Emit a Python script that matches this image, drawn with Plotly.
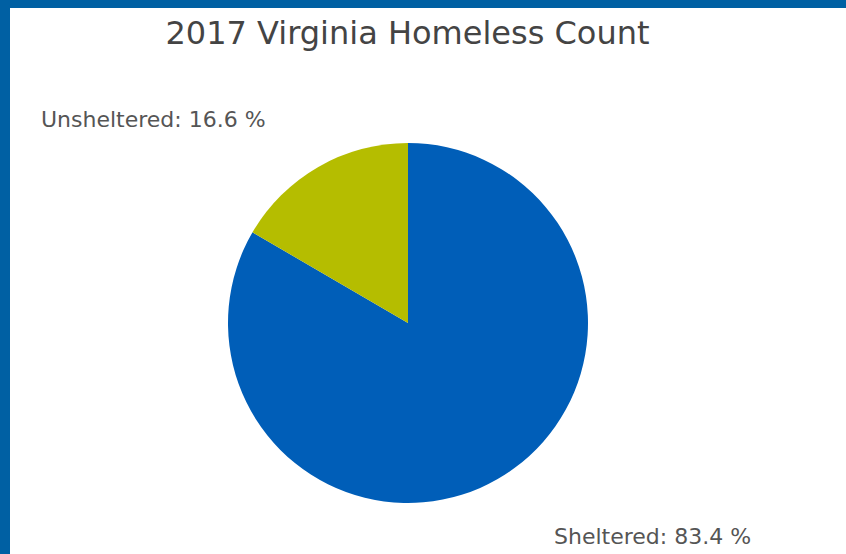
import math
import plotly.graph_objects as go

title = "2017 Virginia Homeless Count"
labels = ["Sheltered", "Unsheltered"]
values = [83.4, 16.6]
colors = ["#005EB8", "#B5BD00"]

W, H = 846, 554
cx, cy, rad = 408, 323, 180  # pie centre / radius in pixels

fig = go.Figure(go.Pie(
    labels=labels,
    values=values,
    marker=dict(colors=colors, line=dict(width=0)),
    sort=False,
    direction="clockwise",
    rotation=0,
    textinfo="none",
    hoverinfo="label+percent",
    showlegend=False,
    domain=dict(x=[(cx - rad) / W, (cx + rad) / W],
                y=[1 - (cy + rad) / H, 1 - (cy - rad) / H]),
))

# outside labels placed along each slice's mid-angle
total = sum(values)
cum = 0.0
annotations = []
for lab, val in zip(labels, values):
    mid = (cum + val / 2) / total * 2 * math.pi
    cum += val
    R = 240
    px = cx + R * math.sin(mid)
    py = cy - R * math.cos(mid) + 5
    right = math.sin(mid) > 0
    px += 24 if right else -20
    annotations.append(dict(
        x=px / W, y=1 - py / H, xref="paper", yref="paper",
        text=f"{lab}: {val:.1f} %", showarrow=False,
        xanchor="left" if right else "right", yanchor="middle",
        font=dict(family="DejaVu Sans", size=22, color="#555555"),
    ))

fig.update_layout(
    width=W, height=H,
    margin=dict(l=0, r=0, t=0, b=0),
    paper_bgcolor="#0060A3",
    plot_bgcolor="white",
    shapes=[dict(type="rect", xref="paper", yref="paper",
                 x0=10 / W, x1=1.01, y0=-0.01, y1=1 - 8 / H,
                 fillcolor="white", line=dict(width=0), layer="below")],
    title=dict(text=title, x=407.5 / W, xanchor="center",
               y=1 - 33 / H, yanchor="middle",
               font=dict(family="DejaVu Sans", size=32, color="#444444")),
    annotations=annotations,
)

fig.write_html("out.html")
